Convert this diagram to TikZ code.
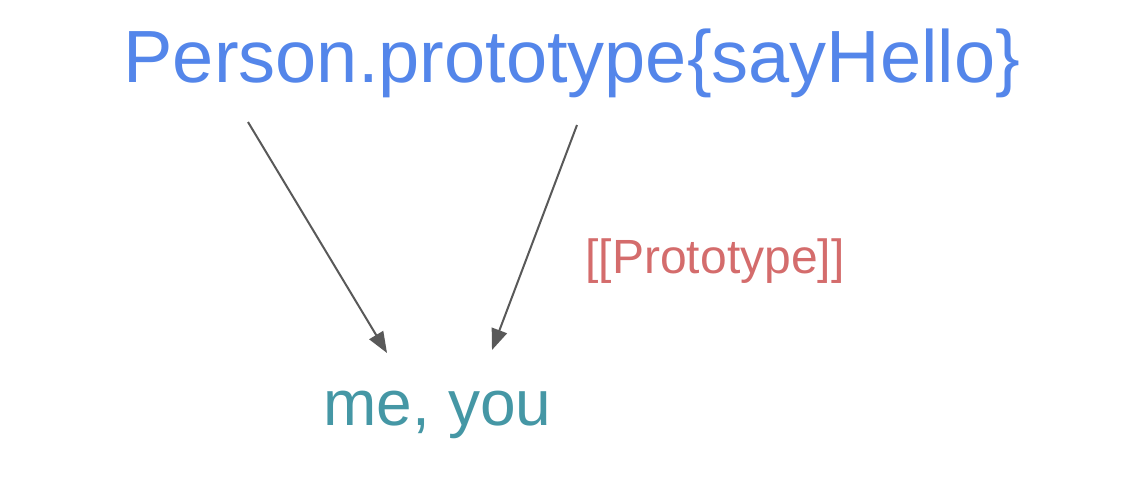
\documentclass[tikz,border=0pt]{standalone}
\usepackage{fontspec}
\setmainfont{Liberation Sans}
\usetikzlibrary{arrows.meta}
\definecolor{topblue}{HTML}{5486EA}
\definecolor{protored}{HTML}{D46C6C}
\definecolor{objteal}{HTML}{4597A5}
\definecolor{arrowgray}{HTML}{595959}
\begin{document}
\begin{tikzpicture}[x=1pt,y=-1pt,
  lbl/.style={inner sep=0pt,anchor=base},
  link/.style={draw=arrowgray,line width=2pt,-{Triangle[length=21pt,width=16pt]}}]
\useasboundingbox (0,0) rectangle (1136,496);
\node[lbl,text=topblue,font=\fontsize{74}{80}\selectfont] (proto) at (572,82) {Person.prototype\{sayHello\}};
\node[lbl,text=protored,font=\fontsize{48}{52}\selectfont] (plabel) at (715,273) {[[Prototype]]};
\node[lbl,text=objteal,font=\fontsize{64}{70}\selectfont] (objs) at (437.5,425) {me, you};
\coordinate (s1) at (248,122);
\coordinate (t1) at (387,353);
\coordinate (s2) at (577,125);
\coordinate (t2) at (492,350);
\draw[link] (s1) -- (t1);
\draw[link] (s2) -- (t2);
\end{tikzpicture}
\end{document}
